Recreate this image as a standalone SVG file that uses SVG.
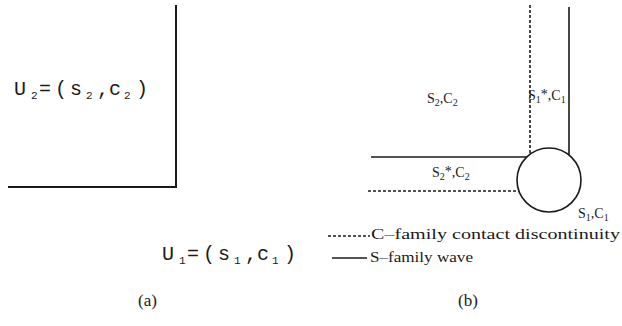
<svg xmlns="http://www.w3.org/2000/svg" width="622" height="326" viewBox="0 0 622 326">
<style>
.ln{stroke:#1a1a1a;stroke-width:2;fill:none}
.sl{stroke:#1a1a1a;stroke-width:1.6;fill:none}
.dt{stroke:#1a1a1a;stroke-width:1.6;fill:none;stroke-dasharray:3 2}
.mono{font-family:"Liberation Mono","DejaVu Sans Mono",monospace;font-size:20px;fill:#1a1a1a}
.sub{font-size:11px}
.lb{font-family:"Liberation Serif","DejaVu Serif",serif;font-size:14px;fill:#1a1a1a}
.lbs{font-size:10px}
.cap{font-family:"Liberation Serif","DejaVu Serif",serif;font-size:17px;fill:#1a1a1a}
</style>
<rect width="622" height="326" fill="#fff"/>
<g id="connectors">
<path class="ln" d="M176 5 V187 H8"/>
<line class="dt" x1="530" y1="5" x2="530" y2="154"/>
<line class="sl" x1="569" y1="7" x2="569" y2="155"/>
<line class="sl" x1="371" y1="157" x2="527" y2="157"/>
<line class="dt" x1="368" y1="191" x2="519" y2="191"/>
</g>
<g id="wave-circle"><circle class="sl" cx="549" cy="180" r="32"/></g>
<g id="label-U2"><text class="mono" y="95"><tspan x="14">U</tspan><tspan x="31" dy="4" class="sub">2</tspan><tspan x="39" dy="-4">=</tspan><tspan x="55">(</tspan><tspan x="70">s</tspan><tspan x="86" dy="4" class="sub">2</tspan><tspan x="97" dy="-4">,</tspan><tspan x="109">c</tspan><tspan x="124" dy="4" class="sub">2</tspan><tspan x="136" dy="-4">)</tspan></text></g>
<g id="label-U1"><text class="mono" y="260"><tspan x="162">U</tspan><tspan x="179" dy="4" class="sub">1</tspan><tspan x="187" dy="-4">=</tspan><tspan x="203">(</tspan><tspan x="218">s</tspan><tspan x="234" dy="4" class="sub">1</tspan><tspan x="245" dy="-4">,</tspan><tspan x="257">c</tspan><tspan x="272" dy="4" class="sub">1</tspan><tspan x="284" dy="-4">)</tspan></text></g>
<g id="label-S2C2"><text class="lb" x="427" y="103">S<tspan class="lbs" dy="3">2</tspan><tspan dy="-3">,C</tspan><tspan class="lbs" dy="3">2</tspan></text></g>
<g id="label-S1sC1"><text class="lb" x="528" y="100">S<tspan class="lbs" dy="3">1</tspan><tspan dy="-4">*</tspan><tspan dy="1">,C</tspan><tspan class="lbs" dy="3">1</tspan></text></g>
<g id="label-S2sC2"><text class="lb" x="432" y="177">S<tspan class="lbs" dy="3">2</tspan><tspan dy="-4">*</tspan><tspan dy="1">,C</tspan><tspan class="lbs" dy="3">2</tspan></text></g>
<g id="label-S1C1"><text class="lb" x="578" y="218">S<tspan class="lbs" dy="3">1</tspan><tspan dy="-3">,C</tspan><tspan class="lbs" dy="3">1</tspan></text></g>
<g id="legend">
<line class="dt" x1="328" y1="236" x2="370" y2="236" stroke-dasharray="2 1.5"/>
<text class="lb" x="371" y="239" textLength="249" lengthAdjust="spacingAndGlyphs">C–family contact discontinuity</text>
<line class="sl" x1="332" y1="258" x2="367" y2="258"/>
<text class="lb" x="370" y="262" textLength="103" lengthAdjust="spacingAndGlyphs">S–family wave</text>
</g>
<g id="caption-a"><text class="cap" x="138" y="306">(a)</text></g>
<g id="caption-b"><text class="cap" x="458" y="306">(b)</text></g>
</svg>
